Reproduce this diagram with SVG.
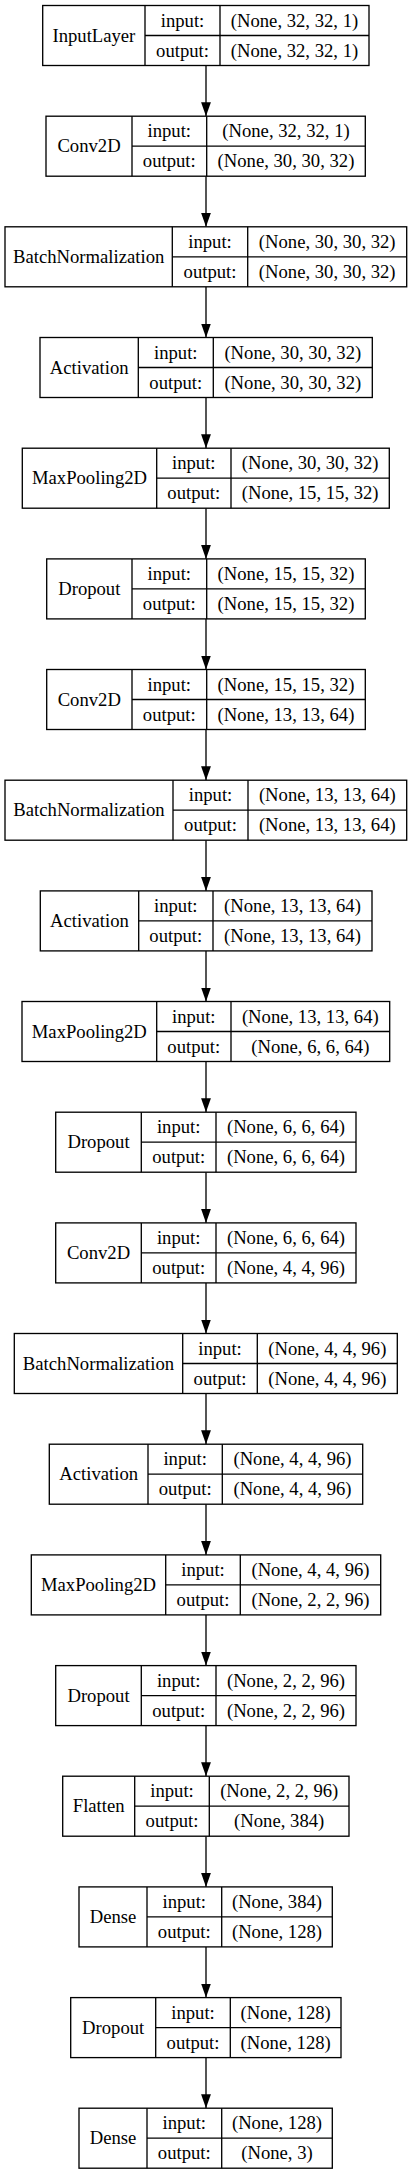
<svg xmlns="http://www.w3.org/2000/svg" width="412" height="2176" viewBox="0 0 412 2176">
<defs>
<style>
.box{fill:#fff;stroke:#000;stroke-width:1.33}
.sep{stroke:#000;stroke-width:1.33}
text{font-family:"Liberation Serif","Times New Roman",serif;font-size:18.67px;fill:#000;text-anchor:middle}
.edge{stroke:#000;stroke-width:1.33;fill:none}
</style>
<marker id="ah" markerUnits="userSpaceOnUse" markerWidth="14" markerHeight="10" refX="13.3" refY="4.67" orient="auto" viewBox="0 0 13.3 9.34">
<path d="M0,0 L13.3,4.67 L0,9.34 z" fill="#000"/>
</marker>
</defs>
<rect width="412" height="2176" fill="#fff"/>
<g id="connectors">
<line class="edge" x1="206" y1="65.5" x2="206" y2="116.2" marker-end="url(#ah)"/>
<line class="edge" x1="206" y1="176.2" x2="206" y2="226.8" marker-end="url(#ah)"/>
<line class="edge" x1="206" y1="286.8" x2="206" y2="337.5" marker-end="url(#ah)"/>
<line class="edge" x1="206" y1="397.5" x2="206" y2="448.2" marker-end="url(#ah)"/>
<line class="edge" x1="206" y1="508.2" x2="206" y2="558.9" marker-end="url(#ah)"/>
<line class="edge" x1="206" y1="618.9" x2="206" y2="669.5" marker-end="url(#ah)"/>
<line class="edge" x1="206" y1="729.5" x2="206" y2="780.2" marker-end="url(#ah)"/>
<line class="edge" x1="206" y1="840.2" x2="206" y2="890.9" marker-end="url(#ah)"/>
<line class="edge" x1="206" y1="950.9" x2="206" y2="1001.5" marker-end="url(#ah)"/>
<line class="edge" x1="206" y1="1061.5" x2="206" y2="1112.2" marker-end="url(#ah)"/>
<line class="edge" x1="206" y1="1172.2" x2="206" y2="1222.9" marker-end="url(#ah)"/>
<line class="edge" x1="206" y1="1282.9" x2="206" y2="1333.5" marker-end="url(#ah)"/>
<line class="edge" x1="206" y1="1393.5" x2="206" y2="1444.2" marker-end="url(#ah)"/>
<line class="edge" x1="206" y1="1504.2" x2="206" y2="1554.9" marker-end="url(#ah)"/>
<line class="edge" x1="206" y1="1614.9" x2="206" y2="1665.6" marker-end="url(#ah)"/>
<line class="edge" x1="206" y1="1725.6" x2="206" y2="1776.2" marker-end="url(#ah)"/>
<line class="edge" x1="206" y1="1836.2" x2="206" y2="1886.9" marker-end="url(#ah)"/>
<line class="edge" x1="206" y1="1946.9" x2="206" y2="1997.6" marker-end="url(#ah)"/>
<line class="edge" x1="206" y1="2057.6" x2="206" y2="2108.2" marker-end="url(#ah)"/>
</g>
<g id="n0" transform="translate(0,5.5)">
<rect class="box" x="42.7" y="0" width="326.3" height="60"/>
<line class="sep" x1="145" y1="0" x2="145" y2="60"/><line class="sep" x1="220" y1="0" x2="220" y2="60"/><line class="sep" x1="145" y1="30" x2="369" y2="30"/>
<text x="93.9" y="36">InputLayer</text><text x="182.5" y="21">input:</text><text x="182.5" y="51">output:</text>
<text x="294.5" y="21">(None, 32, 32, 1)</text><text x="294.5" y="51">(None, 32, 32, 1)</text>
</g>
<g id="n1" transform="translate(0,116.2)">
<rect class="box" x="46" y="0" width="319.3" height="60"/>
<line class="sep" x1="132" y1="0" x2="132" y2="60"/><line class="sep" x1="206.7" y1="0" x2="206.7" y2="60"/><line class="sep" x1="132" y1="30" x2="365.3" y2="30"/>
<text x="89" y="36">Conv2D</text><text x="169.3" y="21">input:</text><text x="169.3" y="51">output:</text>
<text x="286" y="21">(None, 32, 32, 1)</text><text x="286" y="51">(None, 30, 30, 32)</text>
</g>
<g id="n2" transform="translate(0,226.8)">
<rect class="box" x="5" y="0" width="401.7" height="60"/>
<line class="sep" x1="172.3" y1="0" x2="172.3" y2="60"/><line class="sep" x1="247.7" y1="0" x2="247.7" y2="60"/><line class="sep" x1="172.3" y1="30" x2="406.7" y2="30"/>
<text x="88.7" y="36">BatchNormalization</text><text x="210" y="21">input:</text><text x="210" y="51">output:</text>
<text x="327.2" y="21">(None, 30, 30, 32)</text><text x="327.2" y="51">(None, 30, 30, 32)</text>
</g>
<g id="n3" transform="translate(0,337.5)">
<rect class="box" x="40" y="0" width="332.3" height="60"/>
<line class="sep" x1="138.3" y1="0" x2="138.3" y2="60"/><line class="sep" x1="213.3" y1="0" x2="213.3" y2="60"/><line class="sep" x1="138.3" y1="30" x2="372.3" y2="30"/>
<text x="89.2" y="36">Activation</text><text x="175.8" y="21">input:</text><text x="175.8" y="51">output:</text>
<text x="292.8" y="21">(None, 30, 30, 32)</text><text x="292.8" y="51">(None, 30, 30, 32)</text>
</g>
<g id="n4" transform="translate(0,448.2)">
<rect class="box" x="22.3" y="0" width="367" height="60"/>
<line class="sep" x1="156.7" y1="0" x2="156.7" y2="60"/><line class="sep" x1="231" y1="0" x2="231" y2="60"/><line class="sep" x1="156.7" y1="30" x2="389.3" y2="30"/>
<text x="89.5" y="36">MaxPooling2D</text><text x="193.8" y="21">input:</text><text x="193.8" y="51">output:</text>
<text x="310.2" y="21">(None, 30, 30, 32)</text><text x="310.2" y="51">(None, 15, 15, 32)</text>
</g>
<g id="n5" transform="translate(0,558.9)">
<rect class="box" x="46.7" y="0" width="318.6" height="60"/>
<line class="sep" x1="132" y1="0" x2="132" y2="60"/><line class="sep" x1="206.7" y1="0" x2="206.7" y2="60"/><line class="sep" x1="132" y1="30" x2="365.3" y2="30"/>
<text x="89.3" y="36">Dropout</text><text x="169.3" y="21">input:</text><text x="169.3" y="51">output:</text>
<text x="286" y="21">(None, 15, 15, 32)</text><text x="286" y="51">(None, 15, 15, 32)</text>
</g>
<g id="n6" transform="translate(0,669.5)">
<rect class="box" x="46.7" y="0" width="318.6" height="60"/>
<line class="sep" x1="132" y1="0" x2="132" y2="60"/><line class="sep" x1="206.7" y1="0" x2="206.7" y2="60"/><line class="sep" x1="132" y1="30" x2="365.3" y2="30"/>
<text x="89.3" y="36">Conv2D</text><text x="169.3" y="21">input:</text><text x="169.3" y="51">output:</text>
<text x="286" y="21">(None, 15, 15, 32)</text><text x="286" y="51">(None, 13, 13, 64)</text>
</g>
<g id="n7" transform="translate(0,780.2)">
<rect class="box" x="5" y="0" width="401.7" height="60"/>
<line class="sep" x1="173" y1="0" x2="173" y2="60"/><line class="sep" x1="248" y1="0" x2="248" y2="60"/><line class="sep" x1="173" y1="30" x2="406.7" y2="30"/>
<text x="89" y="36">BatchNormalization</text><text x="210.5" y="21">input:</text><text x="210.5" y="51">output:</text>
<text x="327.3" y="21">(None, 13, 13, 64)</text><text x="327.3" y="51">(None, 13, 13, 64)</text>
</g>
<g id="n8" transform="translate(0,890.9)">
<rect class="box" x="40.3" y="0" width="331.7" height="60"/>
<line class="sep" x1="138.7" y1="0" x2="138.7" y2="60"/><line class="sep" x1="213" y1="0" x2="213" y2="60"/><line class="sep" x1="138.7" y1="30" x2="372" y2="30"/>
<text x="89.5" y="36">Activation</text><text x="175.8" y="21">input:</text><text x="175.8" y="51">output:</text>
<text x="292.5" y="21">(None, 13, 13, 64)</text><text x="292.5" y="51">(None, 13, 13, 64)</text>
</g>
<g id="n9" transform="translate(0,1001.5)">
<rect class="box" x="22" y="0" width="367.7" height="60"/>
<line class="sep" x1="156.7" y1="0" x2="156.7" y2="60"/><line class="sep" x1="231" y1="0" x2="231" y2="60"/><line class="sep" x1="156.7" y1="30" x2="389.7" y2="30"/>
<text x="89.3" y="36">MaxPooling2D</text><text x="193.8" y="21">input:</text><text x="193.8" y="51">output:</text>
<text x="310.3" y="21">(None, 13, 13, 64)</text><text x="310.3" y="51">(None, 6, 6, 64)</text>
</g>
<g id="n10" transform="translate(0,1112.2)">
<rect class="box" x="55.7" y="0" width="300.3" height="60"/>
<line class="sep" x1="141.3" y1="0" x2="141.3" y2="60"/><line class="sep" x1="216" y1="0" x2="216" y2="60"/><line class="sep" x1="141.3" y1="30" x2="356" y2="30"/>
<text x="98.5" y="36">Dropout</text><text x="178.7" y="21">input:</text><text x="178.7" y="51">output:</text>
<text x="286" y="21">(None, 6, 6, 64)</text><text x="286" y="51">(None, 6, 6, 64)</text>
</g>
<g id="n11" transform="translate(0,1222.9)">
<rect class="box" x="55.7" y="0" width="300.3" height="60"/>
<line class="sep" x1="141.3" y1="0" x2="141.3" y2="60"/><line class="sep" x1="216" y1="0" x2="216" y2="60"/><line class="sep" x1="141.3" y1="30" x2="356" y2="30"/>
<text x="98.5" y="36">Conv2D</text><text x="178.7" y="21">input:</text><text x="178.7" y="51">output:</text>
<text x="286" y="21">(None, 6, 6, 64)</text><text x="286" y="51">(None, 4, 4, 96)</text>
</g>
<g id="n12" transform="translate(0,1333.5)">
<rect class="box" x="14.3" y="0" width="383" height="60"/>
<line class="sep" x1="182.7" y1="0" x2="182.7" y2="60"/><line class="sep" x1="257.3" y1="0" x2="257.3" y2="60"/><line class="sep" x1="182.7" y1="30" x2="397.3" y2="30"/>
<text x="98.5" y="36">BatchNormalization</text><text x="220" y="21">input:</text><text x="220" y="51">output:</text>
<text x="327.3" y="21">(None, 4, 4, 96)</text><text x="327.3" y="51">(None, 4, 4, 96)</text>
</g>
<g id="n13" transform="translate(0,1444.2)">
<rect class="box" x="49.3" y="0" width="313.4" height="60"/>
<line class="sep" x1="148" y1="0" x2="148" y2="60"/><line class="sep" x1="222.3" y1="0" x2="222.3" y2="60"/><line class="sep" x1="148" y1="30" x2="362.7" y2="30"/>
<text x="98.7" y="36">Activation</text><text x="185.2" y="21">input:</text><text x="185.2" y="51">output:</text>
<text x="292.5" y="21">(None, 4, 4, 96)</text><text x="292.5" y="51">(None, 4, 4, 96)</text>
</g>
<g id="n14" transform="translate(0,1554.9)">
<rect class="box" x="31.3" y="0" width="349.4" height="60"/>
<line class="sep" x1="165.7" y1="0" x2="165.7" y2="60"/><line class="sep" x1="240.3" y1="0" x2="240.3" y2="60"/><line class="sep" x1="165.7" y1="30" x2="380.7" y2="30"/>
<text x="98.5" y="36">MaxPooling2D</text><text x="203" y="21">input:</text><text x="203" y="51">output:</text>
<text x="310.5" y="21">(None, 4, 4, 96)</text><text x="310.5" y="51">(None, 2, 2, 96)</text>
</g>
<g id="n15" transform="translate(0,1665.6)">
<rect class="box" x="55.7" y="0" width="300.3" height="60"/>
<line class="sep" x1="141.3" y1="0" x2="141.3" y2="60"/><line class="sep" x1="216" y1="0" x2="216" y2="60"/><line class="sep" x1="141.3" y1="30" x2="356" y2="30"/>
<text x="98.5" y="36">Dropout</text><text x="178.7" y="21">input:</text><text x="178.7" y="51">output:</text>
<text x="286" y="21">(None, 2, 2, 96)</text><text x="286" y="51">(None, 2, 2, 96)</text>
</g>
<g id="n16" transform="translate(0,1776.2)">
<rect class="box" x="62.7" y="0" width="286.3" height="60"/>
<line class="sep" x1="134.7" y1="0" x2="134.7" y2="60"/><line class="sep" x1="209.3" y1="0" x2="209.3" y2="60"/><line class="sep" x1="134.7" y1="30" x2="349" y2="30"/>
<text x="98.7" y="36">Flatten</text><text x="172" y="21">input:</text><text x="172" y="51">output:</text>
<text x="279.2" y="21">(None, 2, 2, 96)</text><text x="279.2" y="51">(None, 384)</text>
</g>
<g id="n17" transform="translate(0,1886.9)">
<rect class="box" x="79" y="0" width="253.3" height="60"/>
<line class="sep" x1="147" y1="0" x2="147" y2="60"/><line class="sep" x1="221.7" y1="0" x2="221.7" y2="60"/><line class="sep" x1="147" y1="30" x2="332.3" y2="30"/>
<text x="113" y="36">Dense</text><text x="184.3" y="21">input:</text><text x="184.3" y="51">output:</text>
<text x="277" y="21">(None, 384)</text><text x="277" y="51">(None, 128)</text>
</g>
<g id="n18" transform="translate(0,1997.6)">
<rect class="box" x="70.7" y="0" width="270.3" height="60"/>
<line class="sep" x1="155.7" y1="0" x2="155.7" y2="60"/><line class="sep" x1="230.3" y1="0" x2="230.3" y2="60"/><line class="sep" x1="155.7" y1="30" x2="341" y2="30"/>
<text x="113.2" y="36">Dropout</text><text x="193" y="21">input:</text><text x="193" y="51">output:</text>
<text x="285.7" y="21">(None, 128)</text><text x="285.7" y="51">(None, 128)</text>
</g>
<g id="n19" transform="translate(0,2108.2)">
<rect class="box" x="79" y="0" width="253.3" height="60"/>
<line class="sep" x1="147" y1="0" x2="147" y2="60"/><line class="sep" x1="221.7" y1="0" x2="221.7" y2="60"/><line class="sep" x1="147" y1="30" x2="332.3" y2="30"/>
<text x="113" y="36">Dense</text><text x="184.3" y="21">input:</text><text x="184.3" y="51">output:</text>
<text x="277" y="21">(None, 128)</text><text x="277" y="51">(None, 3)</text>
</g>
</svg>
